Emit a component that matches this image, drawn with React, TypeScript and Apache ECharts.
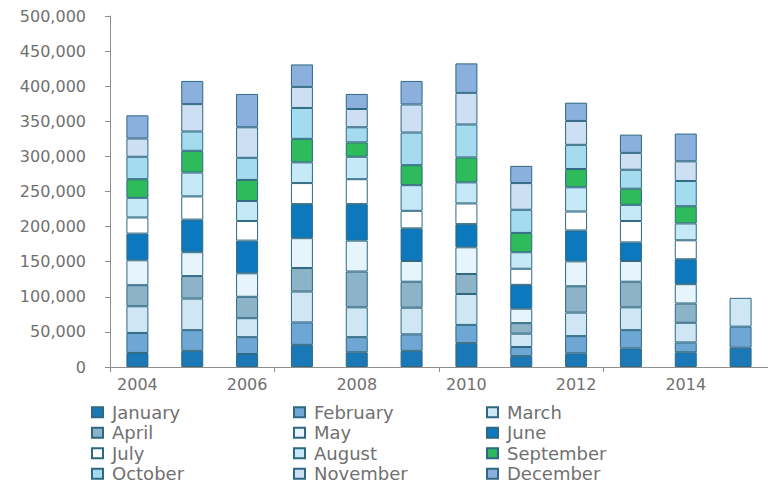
import React, { useEffect, useRef } from "react";
import * as echarts from "echarts";

const years = ["2004", "2005", "2006", "2007", "2008", "2009", "2010", "2011", "2012", "2013", "2014", "2015"];
const monthNames = ["January", "February", "March", "April", "May", "June", "July", "August", "September", "October", "November", "December"];

const january = [20000, 23000, 18500, 31500, 21000, 23000, 34000, 15500, 19500, 26500, 21000, 27500];
const february = [28500, 29500, 24000, 32000, 21500, 23500, 26000, 13000, 24500, 26000, 14000, 30000];
const march = [38000, 45000, 27000, 44000, 42500, 38000, 44000, 19000, 33500, 32500, 28000, 41000];
const april = [30000, 32000, 30500, 33500, 51000, 37000, 28500, 15000, 37500, 36500, 27500, null];
const may = [35500, 34000, 33500, 42500, 44000, 29500, 38000, 20500, 35500, 29500, 27500, null];
const june = [38000, 46500, 46500, 48500, 52000, 46500, 33000, 34000, 44000, 26500, 35500, null];
const july = [23000, 33000, 28000, 30000, 35500, 25000, 29500, 23000, 27000, 30500, 27000, null];
const august = [28000, 34000, 28500, 29500, 32000, 36500, 30000, 23500, 34500, 23000, 24000, null];
const september = [26500, 31000, 30000, 33500, 20500, 28500, 35500, 27500, 26000, 23000, 24500, null];
const october = [32000, 27500, 31500, 44000, 21500, 46500, 47000, 33000, 34500, 27000, 36000, null];
const november = [26000, 39000, 43500, 30000, 26000, 40000, 45000, 38000, 34000, 24000, 28000, null];
const december = [33000, 33000, 47500, 32000, 21500, 33500, 42000, 24500, 26000, 26000, 39500, null];

const monthValues = [january, february, march, april, may, june, july, august, september, october, november, december];

const monthColors = [
  "#1b78b6", "#6ea6d4", "#cfe7f4", "#8db3c8", "#e5f5fb", "#0c78bd",
  "#ffffff", "#c6e9f7", "#2dbb5b", "#a4dbee", "#cddff2", "#8cb0de",
];

const legendColumns = [
  ["January", "April", "July", "October"],
  ["February", "May", "August", "November"],
  ["March", "June", "September", "December"],
];
const legendLefts = [91, 293, 486];

const FONT = "DejaVu Sans";
const TEXT_GRAY = "#707070";
const AXIS_GRAY = "#8e8e8e";

export default function App() {
  const ref = useRef<HTMLDivElement>(null);

  useEffect(() => {
    if (!ref.current) return;
    const chart = echarts.init(ref.current, null, { renderer: "svg" });

    const series = monthNames.map((name, i) => ({
      name,
      type: "bar",
      stack: "total",
      barWidth: 22,
      data: monthValues[i],
      itemStyle: {
        color: monthColors[i],
        borderColor: "#2f6882",
        borderWidth: 1,
      },
    }));

    const legends = legendColumns.map((col, i) => ({
      data: col,
      orient: "vertical",
      left: legendLefts[i],
      top: 402,
      padding: 0,
      itemGap: 0,
      itemWidth: 11,
      itemHeight: 10,
      icon: "rect",
      selectedMode: false,
      textStyle: {
        fontFamily: FONT,
        fontSize: 18,
        lineHeight: 20.5,
        color: TEXT_GRAY,
        padding: [0, 0, 0, 4],
      },
    }));

    chart.setOption({
      animation: false,
      backgroundColor: "#ffffff",
      textStyle: { fontFamily: FONT },
      grid: { left: 110, top: 16, width: 673, height: 351 },
      legend: legends,
      xAxis: {
        type: "category",
        data: years,
        boundaryGap: true,
        axisLine: { show: true, lineStyle: { color: AXIS_GRAY, width: 1 } },
        axisTick: { show: true, interval: 2, length: 5, lineStyle: { color: AXIS_GRAY } },
        axisLabel: {
          interval: 1,
          margin: 9,
          fontFamily: FONT,
          fontSize: 16,
          color: TEXT_GRAY,
        },
      },
      yAxis: {
        type: "value",
        min: 0,
        max: 500000,
        interval: 50000,
        axisLine: { show: true, lineStyle: { color: AXIS_GRAY, width: 1 } },
        axisTick: { show: true, length: 5, lineStyle: { color: AXIS_GRAY } },
        splitLine: { show: false },
        axisLabel: {
          margin: 24,
          fontFamily: FONT,
          fontSize: 16,
          color: TEXT_GRAY,
          formatter: (v: number) => v.toLocaleString("en-US"),
        },
      },
      series,
    });

    return () => chart.dispose();
  }, []);

  return (
    <div
      ref={ref}
      style={{ position: "fixed", left: 0, top: 0, width: 768, height: 488 }}
    />
  );
}
